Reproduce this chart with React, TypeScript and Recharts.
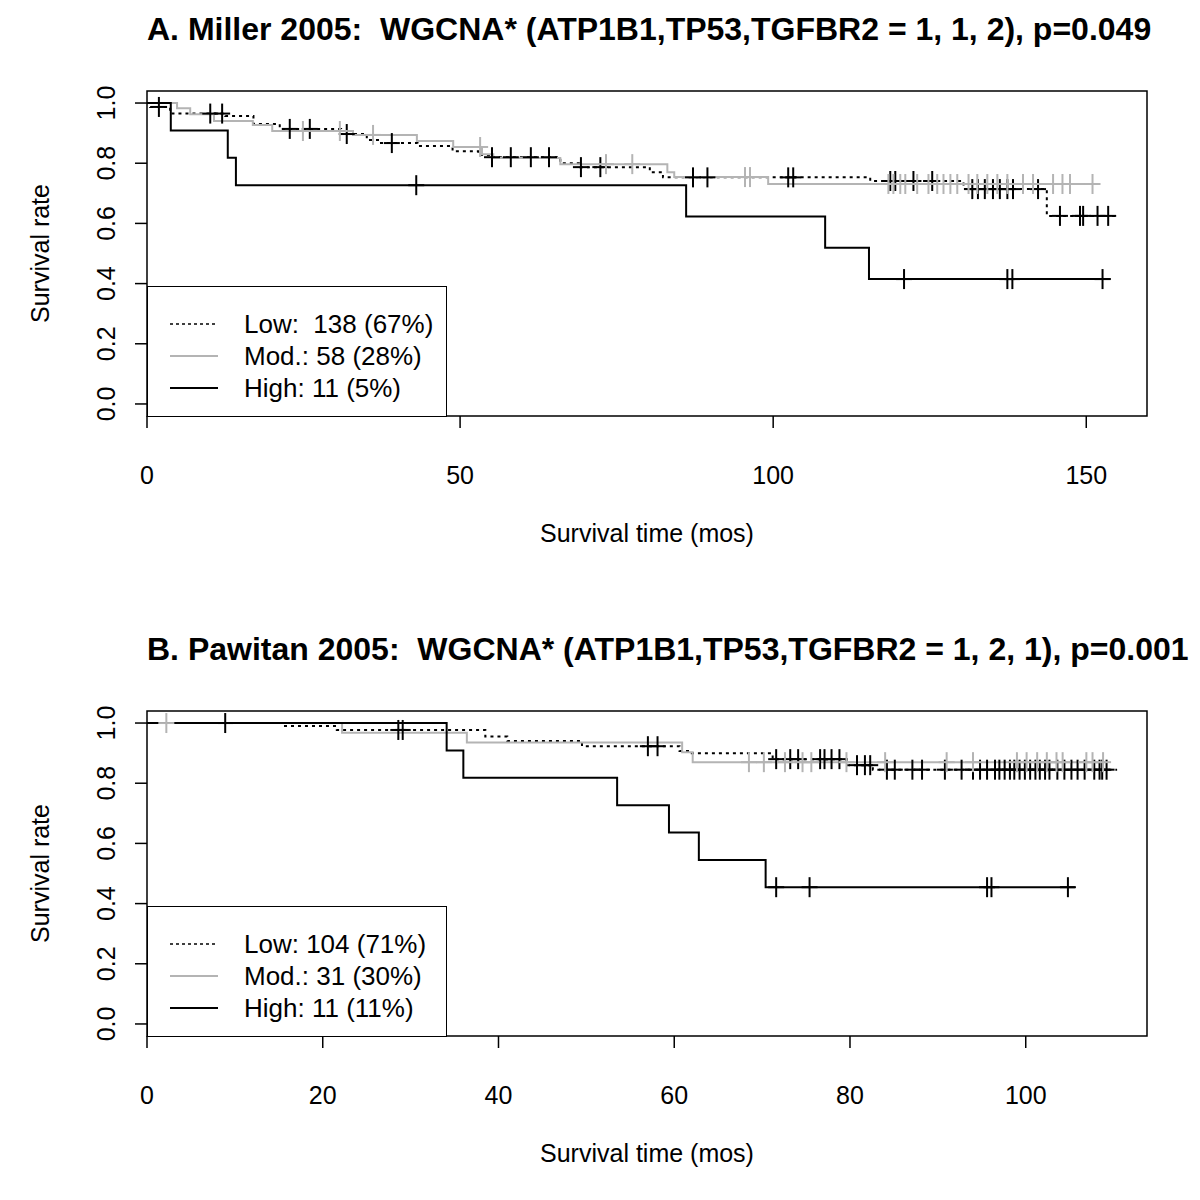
import React from 'react';
import {
  ComposedChart,
  Line,
  Scatter,
  XAxis,
  YAxis,
  ReferenceArea,
  Legend,
  Label
} from 'recharts';

const FONT = '"Liberation Sans", Arial, Helvetica, sans-serif';
const GREY = '#b4b4b4';

// ---- Panel A: Miller 2005 (step times, survival after step, censor times)
const A_LOW_T = [0, 0.5, 3.7, 12.5, 17.0, 21.2, 31.0, 35.1, 37.2, 43.2, 48.8, 52.9, 54.8, 66.0, 69.2, 80.3, 82.4, 115.5, 130.4, 143.7, 155.0];
const A_LOW_S = [1, 0.987, 0.965, 0.957, 0.93, 0.914, 0.897, 0.877, 0.867, 0.857, 0.84, 0.827, 0.82, 0.8, 0.787, 0.77, 0.753, 0.741, 0.714, 0.625, 0.625];
const A_LOW_CENS = [1.9, 10.1, 12.0, 22.8, 26.0, 31.9, 39.1, 55.1, 58.1, 61.3, 64.2, 69.3, 72.4, 87.2, 89.5, 102.4, 103.2, 118.7, 119.5, 122.4, 125.4, 131.8, 132.7, 133.8, 135.1, 136.2, 137.4, 138.3, 142.3, 145.8, 149.0, 149.5, 151.8, 153.5];

const A_MOD_T = [0, 4.8, 6.9, 10.7, 16.9, 20.0, 32.9, 43.1, 48.9, 53.5, 55.3, 66.0, 83.1, 84.2, 99.2, 152.0];
const A_MOD_S = [1, 0.983, 0.963, 0.94, 0.927, 0.907, 0.894, 0.874, 0.854, 0.83, 0.817, 0.797, 0.77, 0.754, 0.731, 0.731];
const A_MOD_CENS = [24.9, 30.8, 36.1, 53.2, 73.3, 77.5, 95.5, 96.3, 118.4, 119.2, 120.3, 121.1, 123.0, 124.8, 126.2, 127.2, 128.3, 129.4, 131.2, 132.6, 134.2, 135.8, 137.4, 139.9, 141.5, 144.7, 146.2, 147.4, 151.0];

const A_HIGH_T = [0, 3.8, 12.9, 14.2, 86.1, 108.3, 115.3, 153.9];
const A_HIGH_S = [1, 0.909, 0.818, 0.727, 0.623, 0.519, 0.415, 0.415];
const A_HIGH_CENS = [43.0, 120.9, 137.4, 138.2, 152.6];

const A_TICKS = [0, 50, 100, 150];
const A_LEGEND = ['Low:  138 (67%)', 'Mod.: 58 (28%)', 'High: 11 (5%)'];

// ---- Panel B: Pawitan 2005
const B_LOW_T = [0, 15.5, 21.6, 38.5, 41.0, 49.5, 60.6, 62.0, 71.2, 79.6, 82.6, 110.4];
const B_LOW_S = [1, 0.99, 0.977, 0.955, 0.94, 0.923, 0.907, 0.9, 0.88, 0.86, 0.845, 0.845];
const B_LOW_CENS = [8.9, 28.6, 29.1, 57.0, 58.1, 71.6, 73.2, 74.1, 76.6, 77.1, 77.9, 78.8, 80.8, 81.7, 82.3, 84.2, 85.1, 87.1, 88.2, 90.8, 92.7, 94.0, 94.8, 95.6, 96.5, 97.0, 97.6, 98.2, 98.7, 99.3, 99.9, 100.5, 101.1, 101.6, 102.2, 102.7, 103.6, 104.4, 105.2, 105.9, 106.7, 107.8, 108.4, 108.7, 109.2];

const B_MOD_T = [0, 22.2, 36.4, 60.9, 62.1, 109.0];
const B_MOD_S = [1, 0.968, 0.935, 0.903, 0.87, 0.87];
const B_MOD_CENS = [2.2, 68.5, 70.2, 72.6, 74.6, 75.6, 79.6, 84.0, 91.0, 94.0, 99.0, 100.1, 101.3, 102.4, 103.5, 104.2, 106.9, 107.6, 108.8];

const B_HIGH_T = [0, 34.1, 36.0, 53.5, 59.4, 62.8, 70.4, 105.6];
const B_HIGH_S = [1, 0.909, 0.818, 0.727, 0.636, 0.545, 0.4545, 0.4545];
const B_HIGH_CENS = [71.6, 75.4, 95.6, 96.1, 104.8];

const B_TICKS = [0, 20, 40, 60, 80, 100];
const B_LEGEND = ['Low: 104 (71%)', 'Mod.: 31 (30%)', 'High: 11 (11%)'];

const Y_TICKS = [0, 0.2, 0.4, 0.6, 0.8, 1.0];

function survAt(ts: number[], ss: number[], t: number) {
  let v = ss[0];
  for (let i = 0; i < ts.length; i++) if (ts[i] <= t) v = ss[i];
  return v;
}
const steps = (ts: number[], ss: number[]) => ts.map((t, i) => ({ t, s: ss[i] }));
const marks = (ts: number[], ss: number[], cens: number[]) =>
  cens.map(t => ({ t, s: survAt(ts, ss, t) }));

const cross = (color: string) => (props: any) => {
  const { cx, cy } = props;
  return (
    <g stroke={color} strokeWidth={2}>
      <line x1={cx - 8} x2={cx + 8} y1={cy} y2={cy} />
      <line x1={cx} x2={cx} y1={cy - 10} y2={cy + 10} />
    </g>
  );
};

const YTick = (props: any) => {
  const { x, y, payload } = props;
  const cx = x - 27;
  return (
    <text x={cx} y={y} transform={`rotate(-90 ${cx} ${y})`} textAnchor="middle"
      dominantBaseline="central" fontSize={25} fontFamily={FONT} fill="#000">
      {Number(payload.value).toFixed(1)}
    </text>
  );
};

function LegendBox({ rows }: { rows: string[] }) {
  const styles = [
    { stroke: '#000', dash: '3 3', w: 1.5 },
    { stroke: GREY, dash: undefined, w: 2 },
    { stroke: '#000', dash: undefined, w: 2 }
  ];
  return (
    <div style={{ width: 300, height: 131, border: '1.5px solid #000', background: '#fff', boxSizing: 'border-box', position: 'relative' }}>
      {rows.map((r, i) => (
        <div key={r} style={{ position: 'absolute', left: 0, top: 37 + i * 32 - 16, height: 32, display: 'flex', alignItems: 'center' }}>
          <svg width={96} height={32}>
            <line x1={22} x2={70} y1={16} y2={16} stroke={styles[i].stroke} strokeWidth={styles[i].w} strokeDasharray={styles[i].dash} />
          </svg>
          <span style={{ fontFamily: FONT, fontSize: 26, whiteSpace: 'pre', color: '#000' }}>{r}</span>
        </div>
      ))}
    </div>
  );
}

interface PanelProps {
  title: string;
  top: number;
  xMax: number;
  ticks: number[];
  legend: string[];
  low: [number[], number[], number[]];
  mod: [number[], number[], number[]];
  high: [number[], number[], number[]];
}

function Panel({ title, top, xMax, ticks, legend, low, mod, high }: PanelProps) {
  return (
    <div style={{ position: 'absolute', left: 0, top, width: 1200, height: 600 }}>
      <div style={{ position: 'absolute', left: 147, width: 1000, top: 13, textAlign: 'center', fontFamily: FONT, fontWeight: 'bold', fontSize: 32, lineHeight: '32px', whiteSpace: 'pre', color: '#000' }}>
        {title}
      </div>
      <ComposedChart width={1200} height={600} margin={{ top: 91, right: 53, bottom: 0, left: 0 }}>
        <XAxis type="number" dataKey="t" domain={[0, xMax]} ticks={ticks} allowDataOverflow
          axisLine={false} tickSize={12} tickMargin={38} height={184}
          tickLine={{ stroke: '#000', strokeWidth: 1.5 }}
          tick={{ fontSize: 25, fontFamily: FONT, fill: '#000' }}>
          <Label content={(p: any) => (
            <text x={p.viewBox.x + p.viewBox.width / 2} y={p.viewBox.y + 126} textAnchor="middle"
              fontSize={25} fontFamily={FONT} fill="#000">Survival time (mos)</text>
          )} />
        </XAxis>
        <YAxis type="number" domain={[-0.04, 1.04]} ticks={Y_TICKS} allowDataOverflow width={147}
          axisLine={false} tickSize={12} tickLine={{ stroke: '#000', strokeWidth: 1.5 }} tick={<YTick />}>
          <Label content={(p: any) => {
            const cy = p.viewBox.y + p.viewBox.height / 2;
            return (
              <text x={40} y={cy} transform={`rotate(-90 40 ${cy})`} textAnchor="middle"
                dominantBaseline="central" fontSize={25} fontFamily={FONT} fill="#000">Survival rate</text>
            );
          }} />
        </YAxis>
        <Line data={steps(low[0], low[1])} dataKey="s" type="stepAfter" stroke="#000" strokeWidth={2}
          strokeDasharray="3 4" dot={false} activeDot={false} isAnimationActive={false} />
        <Scatter data={marks(low[0], low[1], low[2])} dataKey="s" shape={cross('#000')} isAnimationActive={false} />
        <Line data={steps(mod[0], mod[1])} dataKey="s" type="stepAfter" stroke={GREY} strokeWidth={2}
          dot={false} activeDot={false} isAnimationActive={false} />
        <Scatter data={marks(mod[0], mod[1], mod[2])} dataKey="s" shape={cross(GREY)} isAnimationActive={false} />
        <Line data={steps(high[0], high[1])} dataKey="s" type="stepAfter" stroke="#000" strokeWidth={2}
          dot={false} activeDot={false} isAnimationActive={false} />
        <Scatter data={marks(high[0], high[1], high[2])} dataKey="s" shape={cross('#000')} isAnimationActive={false} />
        <ReferenceArea x1={0} x2={xMax} y1={-0.04} y2={1.04} fill="none" stroke="#000" strokeWidth={1.5} fillOpacity={0} />
        <Legend layout="vertical" align="center" verticalAlign="middle"
          wrapperStyle={{ position: 'absolute', left: 147, top: 286, width: 300, height: 131 }}
          content={() => <LegendBox rows={legend} />} />
      </ComposedChart>
    </div>
  );
}

export default function App() {
  return (
    <div style={{ position: 'absolute', left: 0, top: 0, width: 1200, height: 1200, background: '#fff' }}>
      <Panel
        title="A. Miller 2005:  WGCNA* (ATP1B1,TP53,TGFBR2 = 1, 1, 2), p=0.049"
        top={0} xMax={159.7} ticks={A_TICKS} legend={A_LEGEND}
        low={[A_LOW_T, A_LOW_S, A_LOW_CENS]}
        mod={[A_MOD_T, A_MOD_S, A_MOD_CENS]}
        high={[A_HIGH_T, A_HIGH_S, A_HIGH_CENS]}
      />
      <Panel
        title="B. Pawitan 2005:  WGCNA* (ATP1B1,TP53,TGFBR2 = 1, 2, 1), p=0.001"
        top={620} xMax={113.8} ticks={B_TICKS} legend={B_LEGEND}
        low={[B_LOW_T, B_LOW_S, B_LOW_CENS]}
        mod={[B_MOD_T, B_MOD_S, B_MOD_CENS]}
        high={[B_HIGH_T, B_HIGH_S, B_HIGH_CENS]}
      />
    </div>
  );
}
